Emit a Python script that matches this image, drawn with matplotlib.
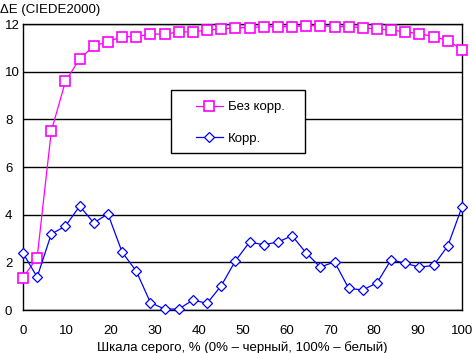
import numpy as np
import matplotlib.pyplot as plt
from matplotlib.patches import Rectangle

plt.rcParams['font.family'] = ['Liberation Sans', 'DejaVu Sans']

# Data
gray_pct = np.arange(32) / 31 * 100
uncorrected = [1.36, 2.20, 7.51, 9.60, 10.54, 11.08, 11.26, 11.47, 11.47, 11.58, 11.58,
               11.67, 11.67, 11.75, 11.79, 11.85, 11.85, 11.89, 11.89, 11.89, 11.93, 11.93,
               11.89, 11.89, 11.85, 11.79, 11.75, 11.67, 11.60, 11.47, 11.31, 10.93]
corrected = [2.39, 1.38, 3.19, 3.52, 4.36, 3.66, 4.03, 2.43, 1.63, 0.31, 0.04,
             0.04, 0.42, 0.28, 1.02, 2.06, 2.85, 2.74, 2.85, 3.12, 2.39, 1.80,
             2.02, 0.91, 0.84, 1.14, 2.11, 1.96, 1.80, 1.87, 2.69, 4.32]

fig = plt.figure(figsize=(4.72, 3.53), dpi=100)
ax = fig.add_axes([0.0487, 0.1218, 0.930, 0.810])

ax.plot(gray_pct, uncorrected, color='#ff00ff', lw=0.9, marker='s', ms=7,
        mfc='white', mec='#ff00ff', mew=1.2, label='Без корр.', clip_on=False, zorder=3)
ax.plot(gray_pct, corrected, color='#0000ff', lw=0.9, marker='D', ms=5.5,
        mfc='white', mec='#0000ff', mew=0.9, label='Корр.', clip_on=False, zorder=3)

ax.set_xlim(0, 100)
ax.set_ylim(0, 12)
ax.set_xticks(range(0, 101, 10))
ax.set_yticks(range(0, 13, 2))
ax.tick_params(length=0, labelsize=9.5)
ax.tick_params(axis='x', pad=10.5)
ax.tick_params(axis='y', pad=13)
for lbl in ax.get_yticklabels():
    lbl.set_ha('left')
ax.yaxis.grid(True, color='black', lw=1)
ax.set_axisbelow(True)
for s in ax.spines.values():
    s.set_linewidth(1)

ax.set_xlabel('Шкала серого, % (0% – черный, 100% – белый)', fontsize=9.5, labelpad=3)
fig.text(0.0, 0.972, 'ΔE (CIEDE2000)', fontsize=9.5, va='center', ha='left')

# legend box
ax.add_patch(Rectangle((0.337, 0.549), 0.305, 0.220, transform=ax.transAxes,
                       facecolor='white', edgecolor='black', lw=1, zorder=4))
leg = ax.legend(loc='upper left', bbox_to_anchor=(0.394, 0.731), frameon=False,
                fontsize=9.5, labelspacing=1.48, handlelength=2.05,
                handletextpad=0.4, borderpad=0, borderaxespad=0)
leg.set_zorder(5)

fig.savefig('out.png', dpi=100)
